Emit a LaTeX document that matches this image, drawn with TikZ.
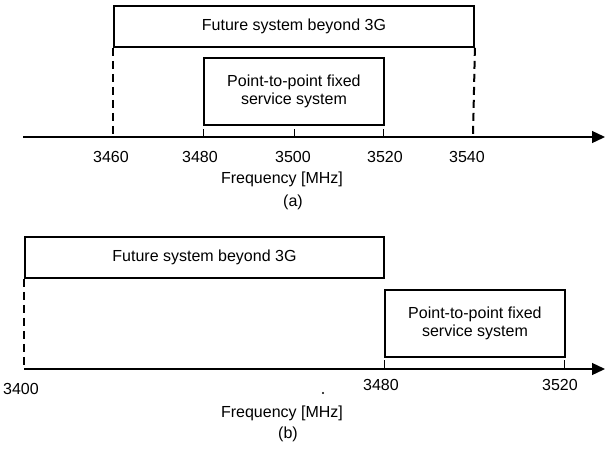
\documentclass[tikz,border=0pt]{standalone}
\usepackage{fontspec}
\setmainfont{Liberation Sans}
\usetikzlibrary{arrows.meta}
\begin{document}
\begin{tikzpicture}[x=1pt,y=-1pt,
  band/.style={draw, line width=1.9pt, inner sep=0pt, anchor=north west,
    align=center, font=\fontsize{16}{18.5}\selectfont},
  axisline/.style={line width=1.3pt, -{Triangle[length=13pt,width=12pt]}},
  edge/.style={line width=2pt, dash pattern=on 8pt off 5pt},
  tickmark/.style={line width=1pt},
  lbl/.style={font=\fontsize{16}{18}\selectfont, inner sep=0pt}]
\useasboundingbox (0,0) rectangle (606,448);

% ---------- (a) ----------
\node[band, minimum width=360pt, minimum height=41pt] (futA) at (113,5) {Future system beyond 3G};
\node[band, minimum width=180pt, minimum height=67pt] (fixA) at (203,57) {Point-to-point fixed\\service system};

\coordinate (a0) at (23,137);
\coordinate (a1) at (605,137);
\draw[axisline] (a0) -- (a1);

\coordinate (aL) at (113,137);
\coordinate (aR) at (473,137);
\draw[edge] (futA.south west) -- (aL);
\draw[edge] (futA.south east) -- (aR);

\foreach \x/\n in {203/t1,294/t2,383/t3}{
  \coordinate (\n top) at (\x,129);
  \coordinate (\n bot) at (\x,137);
  \draw[tickmark] (\n top) -- (\n bot);
}

\node[lbl] (l3460) at (111,157) {3460};
\node[lbl] (l3480) at (200,157) {3480};
\node[lbl] (l3500) at (293,157) {3500};
\node[lbl] (l3520) at (385,157) {3520};
\node[lbl] (l3540) at (467,157) {3540};
\node[lbl] (freqA) at (282,179) {Frequency [MHz]};
\node[lbl] (capA) at (293,202) {(a)};

% ---------- (b) ----------
\node[band, minimum width=359pt, minimum height=41pt] (futB) at (24,236) {Future system beyond 3G};
\node[band, minimum width=180pt, minimum height=67pt] (fixB) at (384,289) {Point-to-point fixed\\service system};

\coordinate (b0) at (24,369);
\coordinate (b1) at (605,369);
\draw[axisline] (b0) -- (b1);

\draw[edge] (futB.south west) -- (b0);

\foreach \x/\n in {384/u1,564/u2}{
  \coordinate (\n top) at (\x,360);
  \coordinate (\n bot) at (\x,369);
  \draw[tickmark] (\n top) -- (\n bot);
}

\node[lbl] (l3400) at (21,389) {3400};
\node[lbl] (m3480) at (381,385) {3480};
\node[lbl] (m3520) at (560,385) {3520};
\fill (323,393) circle (1.1pt);
\node[lbl] (freqB) at (282,413) {Frequency [MHz]};
\node[lbl] (capB) at (288,434) {(b)};
\end{tikzpicture}
\end{document}
